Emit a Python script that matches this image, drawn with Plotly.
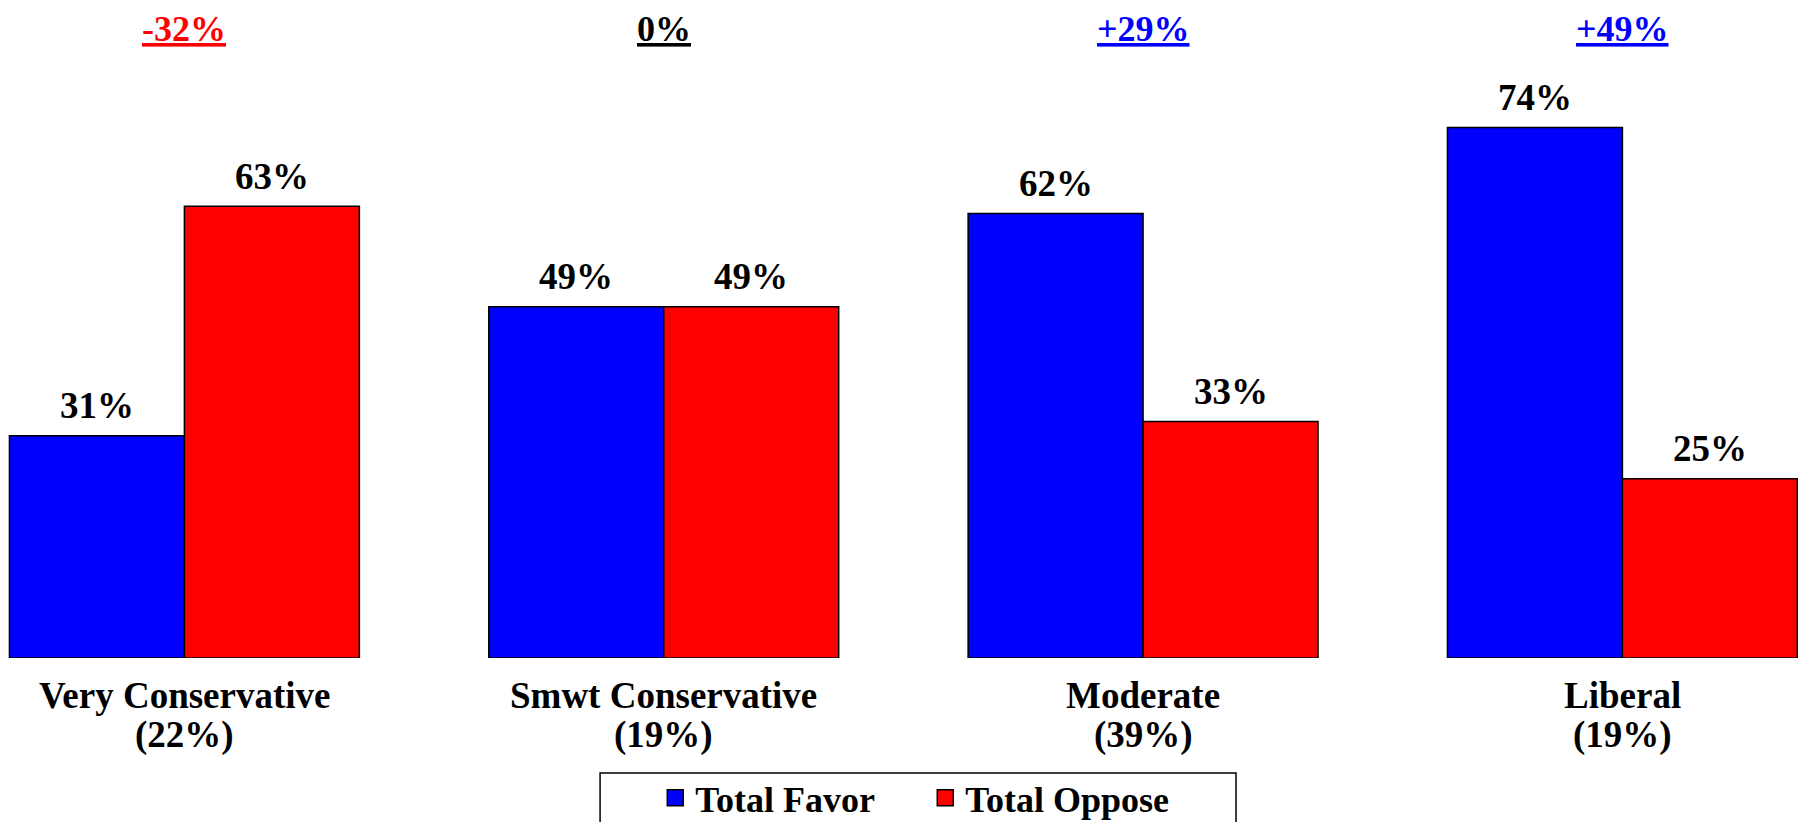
import plotly.graph_objects as go

# Data
groups = ["Very Conservative", "Smwt Conservative", "Moderate", "Liberal"]
group_share = [22, 19, 39, 19]
favor = [31, 49, 62, 74]
oppose = [63, 49, 33, 25]

FONT = "Liberation Serif, Times New Roman, serif"
BLUE = "#0000FF"
RED = "#FF0000"

fig = go.Figure()
fig.add_trace(go.Bar(x=groups, y=favor, name="Total Favor", showlegend=False,
                     marker=dict(color=BLUE, line=dict(color="black", width=1.5))))
fig.add_trace(go.Bar(x=groups, y=oppose, name="Total Oppose", showlegend=False,
                     marker=dict(color=RED, line=dict(color="black", width=1.5))))

# legend entries with bigger square swatches
for name, col in (("Total Favor", BLUE), ("Total Oppose", RED)):
    fig.add_trace(go.Scatter(x=[None], y=[None], mode="markers", name=name,
                             marker=dict(symbol="square", size=18, color=col,
                                         line=dict(color="black", width=1.5))))

# value labels above each bar
half = 87.5  # half a bar in px
for i, cat in enumerate(groups):
    for vals, shift in ((favor, -half), (oppose, half)):
        fig.add_annotation(x=cat, y=vals[i], text=f"{vals[i]}%", showarrow=False,
                           xshift=shift, yshift=30, yanchor="middle",
                           font=dict(family=FONT, size=37, color="black", weight="bold"))

# category labels (two lines, placed separately to keep the tight spacing)
for i, cat in enumerate(groups):
    fig.add_annotation(x=cat, y=0, yref="paper", text=cat, showarrow=False,
                       yshift=-37, yanchor="middle",
                       font=dict(family=FONT, size=37, color="black", weight="bold"))
    fig.add_annotation(x=cat, y=0, yref="paper", text=f"({group_share[i]}%)", showarrow=False,
                       yshift=-77, yanchor="middle",
                       font=dict(family=FONT, size=37, color="black", weight="bold"))

# net difference on top of each group
for i, cat in enumerate(groups):
    net = favor[i] - oppose[i]
    if net > 0:
        txt, col = f"+{net}%", BLUE
    elif net < 0:
        txt, col = f"{net}%", RED
    else:
        txt, col = "0%", "black"
    fig.add_annotation(x=cat, y=0.9677, yref="paper", text=f"<u>{txt}</u>",
                       showarrow=False, yanchor="middle",
                       font=dict(family=FONT, size=36, color=col, weight="bold"))

# legend frame
fig.add_shape(type="rect", xref="paper", yref="paper",
              x0=0.3293, x1=0.683, y0=-0.177, y1=-0.4,
              line=dict(color="black", width=1.5), fillcolor="rgba(0,0,0,0)")

# page body adds an 8px margin, so the figure is 8px smaller than the window
fig.update_layout(
    width=1798, height=814,
    margin=dict(l=0, r=0, t=0, b=164, autoexpand=False),
    plot_bgcolor="white", paper_bgcolor="white",
    barmode="group", bargap=0.27, bargroupgap=0,
    xaxis=dict(range=[-0.368, 3.383], showline=False, showgrid=False, ticks="",
               showticklabels=False, zeroline=False),
    yaxis=dict(range=[0, 90.65], visible=False),
    legend=dict(orientation="h", x=0.360, xanchor="left", y=-0.169, yanchor="top",
                borderwidth=0, bgcolor="rgba(0,0,0,0)", entrywidth=225, itemsizing="trace",
                font=dict(family=FONT, size=36, color="black", weight="bold")),
)

fig.write_html("out.html")
